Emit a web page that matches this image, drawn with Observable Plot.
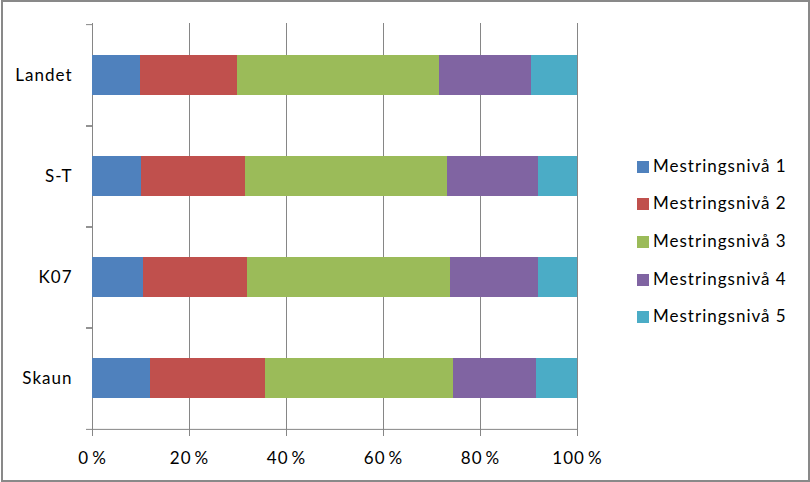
<!DOCTYPE html>
<html>
<head>
<meta charset="utf-8">
<script src="https://cdn.jsdelivr.net/npm/d3@7"></script>
<script src="https://cdn.jsdelivr.net/npm/@observablehq/plot@0.6"></script>
<style>
  html, body { margin: 0; padding: 0; background: #fff; }
  #wrap { position: relative; width: 810px; height: 482px; font-family: Lato, "Open Sans", sans-serif; }
  #frame { position: absolute; left: 1px; top: 0; width: 809px; height: 482px; box-sizing: border-box; border: 2px solid #898989; pointer-events: none; }
  #legend { position: absolute; left: 637px; top: 0; }
  .item { position: absolute; left: 0; white-space: nowrap; font-size: 17px; letter-spacing: 1px; color: #000; }
  .sw { position: absolute; left: 0; width: 12px; height: 12px; }
  .lab { position: absolute; left: 16px; line-height: 20px; }
</style>
</head>
<body>
<div id="wrap"><div id="chart"></div><div id="legend"></div><div id="frame"></div></div>
<script>
// Categories (top to bottom)
const categories = ["Landet", "S-T", "K07", "Skaun"];
// Series (stack order, left to right)
const levels = ["Mestringsnivå 1", "Mestringsnivå 2", "Mestringsnivå 3", "Mestringsnivå 4", "Mestringsnivå 5"];
const colors = ["#4F81BD", "#C0504D", "#9BBB59", "#8064A2", "#4BACC6"];
// Percent shares per series, in category order
const niva1 = [9.8, 10.2, 10.6, 11.9];
const niva2 = [20.0, 21.3, 21.3, 23.7];
const niva3 = [41.7, 41.7, 41.9, 38.8];
const niva4 = [19.0, 18.8, 18.2, 17.2];
const niva5 = [9.5, 8.0, 8.0, 8.4];
const xTicks = [0, 20, 40, 60, 80, 100];

const series = [niva1, niva2, niva3, niva4, niva5];
const data = [];
levels.forEach((lvl, i) => categories.forEach((c, j) => data.push({cat: c, level: lvl, value: series[i][j]})));

const half = 407 / 4 / 2;
const grey = "#868686";

const chart = Plot.plot({
  width: 810,
  height: 482,
  marginLeft: 92,
  marginRight: 233,
  marginTop: 23,
  marginBottom: 52,
  style: {fontFamily: "Lato, 'Open Sans', sans-serif", fontSize: "17px", letterSpacing: "1px", color: "#000", background: "transparent"},
  x: {domain: [0, 100], axis: null},
  y: {domain: categories, paddingInner: 0.6, paddingOuter: 0.3, axis: null},
  color: {domain: levels, range: colors},
  marks: [
    Plot.gridX(xTicks.filter(d => d > 0), {stroke: grey, strokeOpacity: 1}),
    Plot.ruleX([0], {stroke: grey}),
    Plot.ruleY([categories[categories.length - 1]], {dy: half, stroke: grey}),
    Plot.axisY({tickSize: 6, tickFormat: () => "", label: null, dy: -half, stroke: grey, strokeOpacity: 1}),
    Plot.axisY({tickSize: 6, tickFormat: () => "", label: null, dy: half, stroke: grey, strokeOpacity: 1}),
    Plot.axisY({tickSize: 0, tickPadding: 20, label: null, fontSize: 17, fill: "#000"}),
    Plot.axisX({ticks: xTicks, tickSize: 6, tickPadding: 15, label: null, tickFormat: d => d + "\u2009%", stroke: grey, strokeOpacity: 1, fontSize: 17, fill: "#000"}),
    Plot.barX(data, {x: "value", y: "cat", fill: "level", order: levels, shapeRendering: "crispEdges"})
  ]
});
document.getElementById("chart").appendChild(chart);

const legend = document.getElementById("legend");
const rowY = [161, 198, 236, 274, 311];
levels.forEach((lvl, i) => {
  const it = document.createElement("div");
  it.className = "item";
  it.style.top = rowY[i] + "px";
  it.innerHTML = `<div class="sw" style="background:${colors[i]};top:0"></div><div class="lab" style="top:-5px">${lvl}</div>`;
  legend.appendChild(it);
});
</script>
</body>
</html>
